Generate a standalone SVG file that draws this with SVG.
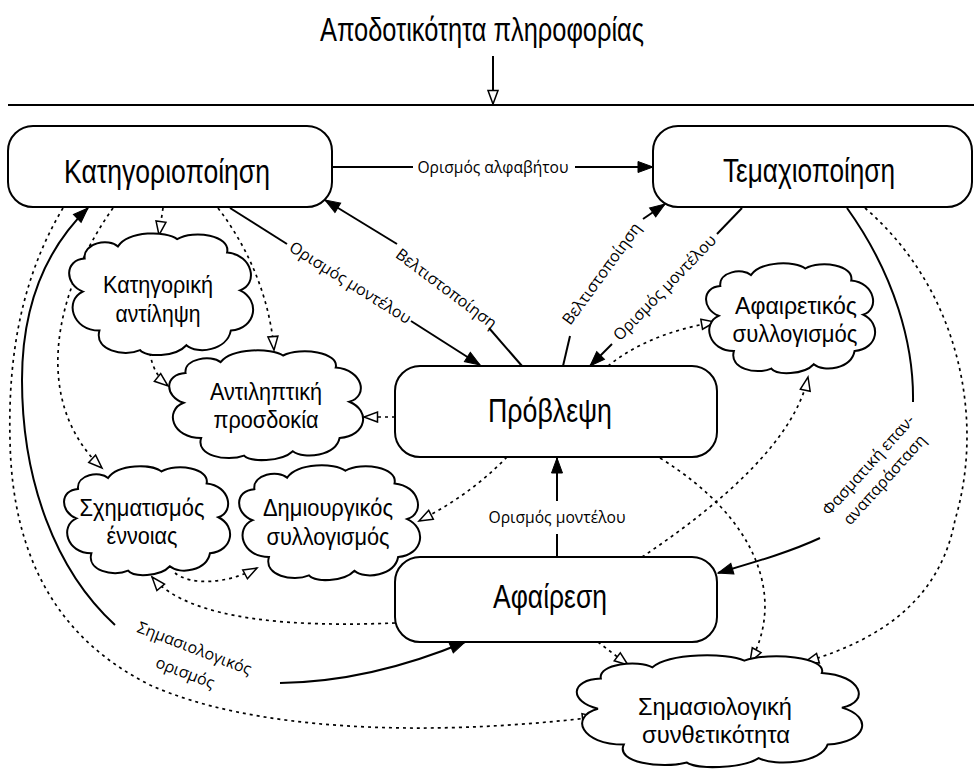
<svg xmlns="http://www.w3.org/2000/svg" width="974" height="769" viewBox="0 0 974 769">
<style>
.box{fill:#fff;stroke:#000;stroke-width:2}
.cl{fill:#fff;stroke:#000;stroke-width:2;vector-effect:non-scaling-stroke}
.s{fill:none;stroke:#000;stroke-width:2}
.d{fill:none;stroke:#000;stroke-width:1.7;stroke-dasharray:3 4}
.nt{font-family:"Liberation Sans Narrow","Liberation Sans",Arial,sans-serif;font-size:34px;text-anchor:middle;fill:#000}
.ct{font-family:"Liberation Sans",Arial,sans-serif;font-size:23px;text-anchor:middle;fill:#000}
.el{font-family:"Open Sans","Liberation Sans",sans-serif;font-size:16px;text-anchor:middle;fill:#000}
.eh{font-family:"Open Sans","Liberation Sans",sans-serif;font-size:17px;text-anchor:middle;fill:#000}
</style>
<defs>
<marker id="fa" markerUnits="userSpaceOnUse" markerWidth="18" markerHeight="14" refX="16" refY="7" orient="auto"><path d="M1,1.5 L16,7 L1,12.5 Z" fill="#000" stroke="#000" stroke-width="1"/></marker>
<marker id="oa" markerUnits="userSpaceOnUse" markerWidth="18" markerHeight="14" refX="15" refY="7" orient="auto"><path d="M1.5,2 L15,7 L1.5,12 Z" fill="#fff" stroke="#000" stroke-width="1.5"/></marker>
</defs>
<rect width="974" height="769" fill="#fff"/>

<g id="title">
<text class="nt" x="482" y="41" textLength="324" lengthAdjust="spacingAndGlyphs">Αποδοτικότητα πληροφορίας</text>
</g>
<g id="boundary">
<line x1="8" y1="105" x2="974" y2="105" stroke="#000" stroke-width="2"/>
</g>

<g id="connectors">
<path class="s" d="M493,56 L493,104" marker-end="url(#oa)" stroke-width="1.5"/>
<!-- Κατηγοριοποίηση -> Τεμαχιοποίηση -->
<path class="s" d="M332,167 L413,167"/>
<path class="s" d="M575,167 L653,167" marker-end="url(#fa)"/>
<!-- Κατηγοριοποίηση -> Πρόβλεψη -->
<path class="s" d="M230,208 L287,244"/>
<path class="s" d="M411,321 L480,365" marker-end="url(#fa)"/>
<!-- Πρόβλεψη -> Κατηγοριοποίηση -->
<path class="s" d="M522,366 L489,328"/>
<path class="s" d="M397,244 L325,200" marker-end="url(#fa)"/>
<!-- Πρόβλεψη -> Τεμαχιοποίηση -->
<path class="s" d="M563,366 L570,336"/>
<path class="s" d="M643,219 L665,204" marker-end="url(#fa)"/>
<!-- Τεμαχιοποίηση -> Πρόβλεψη -->
<path class="s" d="M742,208 L717,234"/>
<path class="s" d="M612,344 L590,366" marker-end="url(#fa)"/>
<!-- Αφαίρεση -> Πρόβλεψη -->
<path class="s" d="M557,557 L557,534"/>
<path class="s" d="M557,501 L557,458" marker-end="url(#fa)"/>
<!-- Τεμαχιοποίηση -> Αφαίρεση -->
<path class="s" d="M847,208 C895,275 914,345 913,402"/>
<path class="s" d="M820,538 C790,552 755,562 718,573" marker-end="url(#fa)"/>
<!-- Σημασιολογικός ορισμός -->
<path class="s" d="M115,625 C55,570 22,480 22,380 C22,300 50,245 88,208" marker-end="url(#fa)"/>
<path class="s" d="M280,683 C350,682 410,665 465,642" marker-end="url(#fa)"/>

<!-- dotted -->
<path class="d" d="M63,208 C20,280 8,360 10,440 C12,560 60,640 150,685 C250,730 420,738 596,717" marker-end="url(#oa)"/>
<path class="d" d="M113,208 C55,290 30,400 102,468" marker-end="url(#oa)"/>
<path class="d" d="M163,208 L159,235" marker-end="url(#oa)"/>
<path class="d" d="M218,208 C250,250 270,300 274,350" marker-end="url(#oa)"/>
<path class="d" d="M150,353 C152,366 157,377 168,386" marker-end="url(#oa)"/>
<path class="d" d="M395,417 L364,417" marker-end="url(#oa)"/>
<path class="d" d="M507,457 C480,485 450,505 419,521" marker-end="url(#oa)"/>
<path class="d" d="M608,366 C640,340 680,328 715,322" marker-end="url(#oa)"/>
<path class="d" d="M660,458 C760,520 785,600 750,662" marker-end="url(#oa)"/>
<path class="d" d="M642,557 C720,505 795,440 808,377" marker-end="url(#oa)"/>
<path class="d" d="M395,623 C300,627 190,622 152,577" marker-end="url(#oa)"/>
<path class="d" d="M598,642 L628,665" marker-end="url(#oa)"/>
<path class="d" d="M175,573 C190,585 225,585 257,568" marker-end="url(#oa)"/>
<path class="d" d="M865,208 C960,290 985,420 955,520 C940,600 880,640 805,662" marker-end="url(#oa)"/>
</g>

<g id="edge-labels">
<text class="eh" x="493" y="173" textLength="151" lengthAdjust="spacingAndGlyphs">Ορισμός αλφαβήτου</text>
<text class="eh" x="557" y="523" textLength="137" lengthAdjust="spacingAndGlyphs">Ορισμός μοντέλου</text>
<text class="el" transform="translate(350,283) rotate(32)" x="0" y="5">Ορισμός μοντέλου</text>
<text class="el" transform="translate(446,289) rotate(37)" x="0" y="5">Βελτιστοποίηση</text>
<text class="el" transform="translate(602,274) rotate(-54)" x="0" y="5">Βελτιστοποίηση</text>
<text class="el" transform="translate(665,288) rotate(-46)" x="0" y="5">Ορισμός μοντέλου</text>
<text class="el" transform="translate(876,472) rotate(-48)"><tspan x="0" y="-5">Φασματική επαν-</tspan><tspan x="0" y="17">αναπαράσταση</tspan></text>
<text class="el" transform="translate(190,660) rotate(21)"><tspan x="0" y="-7">Σημασιολογικός</tspan><tspan x="0" y="19">ορισμός</tspan></text>
</g>

<g id="n-katigoriopoiisi">
<rect class="box" x="8" y="126" width="324" height="81" rx="25"/>
<text class="nt" x="167" y="183" textLength="206" lengthAdjust="spacingAndGlyphs">Κατηγοριοποίηση</text>
</g>
<g id="n-temaxiopoiisi">
<rect class="box" x="653" y="126" width="319" height="81" rx="25"/>
<text class="nt" x="809" y="182" textLength="172" lengthAdjust="spacingAndGlyphs">Τεμαχιοποίηση</text>
</g>
<g id="n-provlepsi">
<rect class="box" x="395" y="366" width="322" height="91" rx="25"/>
<text class="nt" x="550" y="422" textLength="124" lengthAdjust="spacingAndGlyphs">Πρόβλεψη</text>
</g>
<g id="n-afairesi">
<rect class="box" x="395" y="557" width="322" height="85" rx="25"/>
<text class="nt" x="550" y="608" textLength="114" lengthAdjust="spacingAndGlyphs">Αφαίρεση</text>
</g>

<g id="c-katigoriki">
<path class="cl" transform="translate(68,233) scale(1.85,1.22)" d="M9,21 C8,8 22,4 27,11 C33,-2 53,-2 59,5 C68,-3 88,2 86,16 C100,18 103,42 93,47 C104,55 102,78 88,80 C86,96 70,100 64,92 C58,102 42,102 39,96 C30,102 14,96 17,80 C2,80 -2,55 8,48 C-2,42 -2,22 9,21 Z"/>
<text class="ct" x="158" y="293" textLength="110" lengthAdjust="spacingAndGlyphs">Κατηγορική</text>
<text class="ct" x="158" y="322" textLength="85" lengthAdjust="spacingAndGlyphs">αντίληψη</text>
</g>
<g id="c-antiliptiki">
<path class="cl" transform="translate(168,350) scale(1.95,1.1)" d="M9,21 C8,8 22,4 27,11 C33,-2 53,-2 59,5 C68,-3 88,2 86,16 C100,18 103,42 93,47 C104,55 102,78 88,80 C86,96 70,100 64,92 C58,102 42,102 39,96 C30,102 14,96 17,80 C2,80 -2,55 8,48 C-2,42 -2,22 9,21 Z"/>
<text class="ct" x="266" y="400" textLength="112" lengthAdjust="spacingAndGlyphs">Αντιληπτική</text>
<text class="ct" x="266" y="428" textLength="105" lengthAdjust="spacingAndGlyphs">προσδοκία</text>
</g>
<g id="c-sximatismos">
<path class="cl" transform="translate(63,466) scale(1.67,1.09)" d="M9,21 C8,8 22,4 27,11 C33,-2 53,-2 59,5 C68,-3 88,2 86,16 C100,18 103,42 93,47 C104,55 102,78 88,80 C86,96 70,100 64,92 C58,102 42,102 39,96 C30,102 14,96 17,80 C2,80 -2,55 8,48 C-2,42 -2,22 9,21 Z"/>
<text class="ct" x="142" y="516" textLength="125" lengthAdjust="spacingAndGlyphs">Σχηματισμός</text>
<text class="ct" x="142" y="544" textLength="71" lengthAdjust="spacingAndGlyphs">έννοιας</text>
</g>
<g id="c-dimiourgikos">
<path class="cl" transform="translate(238,465) scale(1.82,1.15)" d="M9,21 C8,8 22,4 27,11 C33,-2 53,-2 59,5 C68,-3 88,2 86,16 C100,18 103,42 93,47 C104,55 102,78 88,80 C86,96 70,100 64,92 C58,102 42,102 39,96 C30,102 14,96 17,80 C2,80 -2,55 8,48 C-2,42 -2,22 9,21 Z"/>
<text class="ct" x="328" y="516" textLength="130" lengthAdjust="spacingAndGlyphs">Δημιουργικός</text>
<text class="ct" x="328" y="545" textLength="123" lengthAdjust="spacingAndGlyphs">συλλογισμός</text>
</g>
<g id="c-afairetikos">
<path class="cl" transform="translate(705,263) scale(1.7,1.1)" d="M9,21 C8,8 22,4 27,11 C33,-2 53,-2 59,5 C68,-3 88,2 86,16 C100,18 103,42 93,47 C104,55 102,78 88,80 C86,96 70,100 64,92 C58,102 42,102 39,96 C30,102 14,96 17,80 C2,80 -2,55 8,48 C-2,42 -2,22 9,21 Z"/>
<text class="ct" x="796" y="314" textLength="122" lengthAdjust="spacingAndGlyphs">Αφαιρετικός</text>
<text class="ct" x="795" y="342" textLength="125" lengthAdjust="spacingAndGlyphs">συλλογισμός</text>
</g>
<g id="c-simasiologiki">
<path class="cl" transform="translate(575,655) scale(2.87,1.12)" d="M9,21 C8,8 22,4 27,11 C33,-2 53,-2 59,5 C68,-3 88,2 86,16 C100,18 103,42 93,47 C104,55 102,78 88,80 C86,96 70,100 64,92 C58,102 42,102 39,96 C30,102 14,96 17,80 C2,80 -2,55 8,48 C-2,42 -2,22 9,21 Z"/>
<text class="ct" x="715" y="715" textLength="154" lengthAdjust="spacingAndGlyphs">Σημασιολογική</text>
<text class="ct" x="716" y="743" textLength="148" lengthAdjust="spacingAndGlyphs">συνθετικότητα</text>
</g>
</svg>
